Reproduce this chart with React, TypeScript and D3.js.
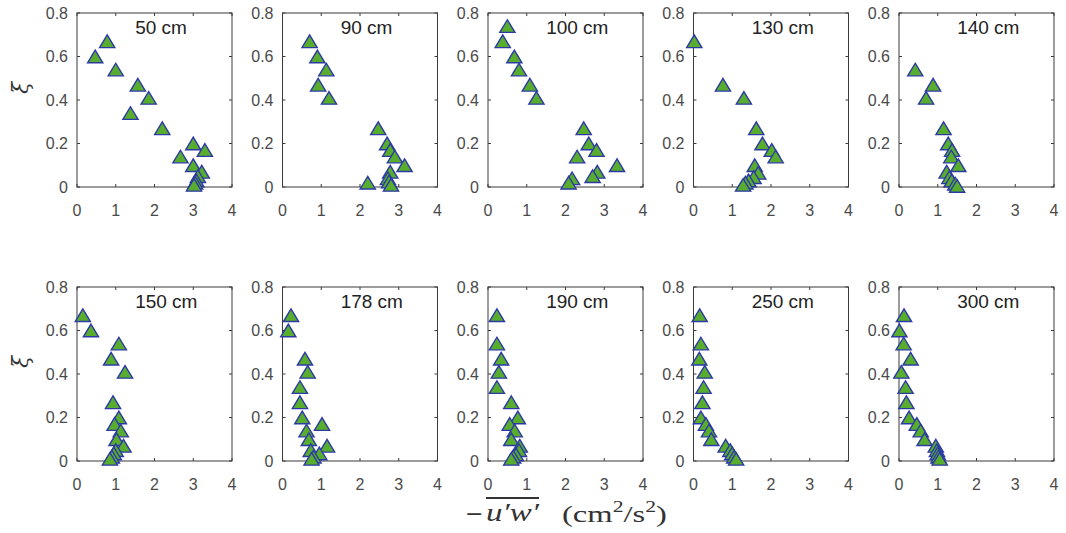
import React from "react";
import * as d3 from "d3";

// ---- data ----
const stations = ["50 cm", "90 cm", "100 cm", "130 cm", "140 cm", "150 cm", "178 cm", "190 cm", "250 cm", "300 cm"];

const s50x = [0.78, 0.47, 1.0, 1.57, 1.85, 1.38, 2.2, 3.0, 3.3, 2.67, 3.0, 3.22, 3.12, 3.08, 3.05, 3.02];
const s50y = [0.67, 0.60, 0.54, 0.47, 0.41, 0.34, 0.27, 0.20, 0.17, 0.14, 0.10, 0.07, 0.05, 0.03, 0.02, 0.01];

const s90x = [0.7, 0.9, 1.13, 0.92, 1.2, 2.47, 2.7, 2.78, 2.9, 3.15, 2.78, 2.72, 2.75, 2.8, 2.2];
const s90y = [0.67, 0.60, 0.54, 0.47, 0.41, 0.27, 0.20, 0.17, 0.14, 0.10, 0.07, 0.04, 0.025, 0.01, 0.02];

const s100x = [0.5, 0.38, 0.68, 0.8, 1.08, 1.25, 2.47, 2.6, 2.8, 2.3, 3.33, 2.82, 2.7, 2.17, 2.08];
const s100y = [0.74, 0.67, 0.60, 0.54, 0.47, 0.41, 0.27, 0.20, 0.17, 0.14, 0.10, 0.07, 0.05, 0.04, 0.02];

const s130x = [0.02, 0.76, 1.3, 1.62, 1.78, 2.02, 2.12, 1.58, 1.67, 1.55, 1.42, 1.34, 1.28];
const s130y = [0.67, 0.47, 0.41, 0.27, 0.20, 0.17, 0.14, 0.10, 0.065, 0.045, 0.03, 0.02, 0.01];

const s140x = [0.42, 0.88, 0.7, 1.15, 1.27, 1.37, 1.35, 1.53, 1.23, 1.3, 1.36, 1.45, 1.5];
const s140y = [0.54, 0.47, 0.41, 0.27, 0.20, 0.17, 0.14, 0.10, 0.07, 0.045, 0.03, 0.015, 0.005];

const s150x = [0.15, 0.36, 1.08, 0.88, 1.24, 0.93, 1.08, 0.97, 1.13, 1.02, 1.2, 1.0, 0.95, 0.9, 0.85];
const s150y = [0.67, 0.60, 0.54, 0.47, 0.41, 0.27, 0.20, 0.17, 0.14, 0.10, 0.07, 0.05, 0.035, 0.02, 0.01];

const s178x = [0.22, 0.15, 0.58, 0.65, 0.45, 0.45, 0.51, 1.02, 0.62, 0.68, 1.15, 0.73, 0.95, 0.8, 0.75];
const s178y = [0.67, 0.60, 0.47, 0.41, 0.34, 0.27, 0.20, 0.17, 0.14, 0.10, 0.07, 0.05, 0.035, 0.02, 0.01];

const s190x = [0.23, 0.23, 0.34, 0.28, 0.23, 0.6, 0.77, 0.56, 0.69, 0.6, 0.82, 0.8, 0.72, 0.65, 0.6];
const s190y = [0.67, 0.54, 0.47, 0.41, 0.34, 0.27, 0.20, 0.17, 0.14, 0.10, 0.07, 0.05, 0.03, 0.02, 0.01];

const s250x = [0.16, 0.19, 0.15, 0.29, 0.26, 0.23, 0.19, 0.32, 0.4, 0.46, 0.83, 0.95, 1.0, 1.05, 1.1];
const s250y = [0.67, 0.54, 0.47, 0.41, 0.34, 0.27, 0.20, 0.17, 0.14, 0.10, 0.07, 0.05, 0.035, 0.02, 0.01];

const s300x = [0.13, 0.01, 0.12, 0.3, 0.06, 0.17, 0.19, 0.26, 0.46, 0.56, 0.66, 0.95, 0.98, 1.0, 1.02, 1.05];
const s300y = [0.67, 0.60, 0.54, 0.47, 0.41, 0.34, 0.27, 0.20, 0.17, 0.14, 0.10, 0.07, 0.05, 0.035, 0.02, 0.01];

const seriesX = [s50x, s90x, s100x, s130x, s140x, s150x, s178x, s190x, s250x, s300x];
const seriesY = [s50y, s90y, s100y, s130y, s140y, s150y, s178y, s190y, s250y, s300y];

const xTicks = [0, 1, 2, 3, 4];
const yTicks = [0, 0.2, 0.4, 0.6, 0.8];
const yTickLabels = ["0", "0.2", "0.4", "0.6", "0.8"];
const titlePos = { x: 1.5, y: 0.735 };

// ---- layout ----
const W = 1066, H = 533;
const panelW = 155, panelH = 174;
const lefts = [77, 282.5, 488, 693.5, 899];
const tops = [13, 287];
const fontSans = "Arial, 'Liberation Sans', Helvetica, sans-serif";
const tickColor = "#4a4a4a";
const axisColor = "#3a3a3a";
const markerFill = "#58ad2f";
const markerStroke = "#2d3aa6";
const serif = "'DejaVu Serif', 'Liberation Serif', serif";
const serif2 = "'Liberation Serif', 'DejaVu Serif', serif";

const tri = "M0,-6.3 L7.6,6.3 L-7.6,6.3 Z";

function Panel({ idx }: { idx: number }) {
  const col = idx % 5;
  const row = Math.floor(idx / 5);
  const x0 = lefts[col];
  const y0 = tops[row];
  const x = d3.scaleLinear().domain([0, 4]).range([0, panelW]);
  const y = d3.scaleLinear().domain([0, 0.8]).range([panelH, 0]);
  const xs = seriesX[idx];
  const ys = seriesY[idx];
  const tl = 3;
  return (
    <g transform={`translate(${x0},${y0})`}>
      <rect x={0} y={0} width={panelW} height={panelH} fill="white" stroke={axisColor} strokeWidth={1} />
      {xTicks.map((t) => (
        <g key={"xt" + t}>
          <line x1={x(t)} x2={x(t)} y1={panelH} y2={panelH - tl} stroke={axisColor} />
          <line x1={x(t)} x2={x(t)} y1={0} y2={tl} stroke={axisColor} />
          <text x={x(t)} y={panelH + 29} textAnchor="middle" fontSize={16} fontFamily={fontSans} fill={tickColor}>
            {t}
          </text>
        </g>
      ))}
      {yTicks.map((t, i) => (
        <g key={"yt" + t}>
          <line x1={0} x2={tl} y1={y(t)} y2={y(t)} stroke={axisColor} />
          <line x1={panelW} x2={panelW - tl} y1={y(t)} y2={y(t)} stroke={axisColor} />
          <text x={-9} y={y(t) + 5.5} textAnchor="end" fontSize={16} fontFamily={fontSans} fill={tickColor}>
            {yTickLabels[i]}
          </text>
        </g>
      ))}
      <text x={x(titlePos.x)} y={y(titlePos.y) + 6.5} fontSize={19} fontFamily={fontSans} fill="#222">
        {stations[idx]}
      </text>
      {xs.map((v, i) => (
        <path
          key={i}
          d={tri}
          transform={`translate(${x(v)},${y(ys[i])})`}
          fill={markerFill}
          stroke={markerStroke}
          strokeWidth={1.4}
          strokeLinejoin="miter"
        />
      ))}
    </g>
  );
}

export default function App() {
  return (
    <div style={{ position: "absolute", left: 0, top: 0 }}>
      <svg width={W} height={H} style={{ display: "block", background: "white" }}>
        {stations.map((_, i) => (
          <Panel key={i} idx={i} />
        ))}
        {tops.map((t, i) => (
          <text
            key={"xi" + i}
            transform={`translate(${28},${t + panelH / 2 - 12}) rotate(-90)`}
            textAnchor="middle"
            fontSize={22}
            fontStyle="italic"
            fontFamily={serif}
            fill="#333"
          >
            ξ
          </text>
        ))}
        <g fill="#333">
          <line x1={486} x2={539} y1={498} y2={498} stroke="#333" strokeWidth={2} />
          <text x={465} y={521} fontFamily={serif} fontSize={22}>−</text>
          <text
            x={486}
            y={521}
            fontFamily={serif2}
            fontSize={25}
            fontStyle="italic"
            textLength={53}
            lengthAdjust="spacingAndGlyphs"
          >
            u′w′
          </text>
          <text
            x={562}
            y={522}
            fontFamily={serif2}
            fontSize={24}
            textLength={105}
            lengthAdjust="spacingAndGlyphs"
          >
            <tspan>(cm</tspan>
            <tspan fontSize={16} dy={-10}>2</tspan>
            <tspan dy={10}>/s</tspan>
            <tspan fontSize={16} dy={-10}>2</tspan>
            <tspan dy={10}>)</tspan>
          </text>
        </g>
      </svg>
    </div>
  );
}
